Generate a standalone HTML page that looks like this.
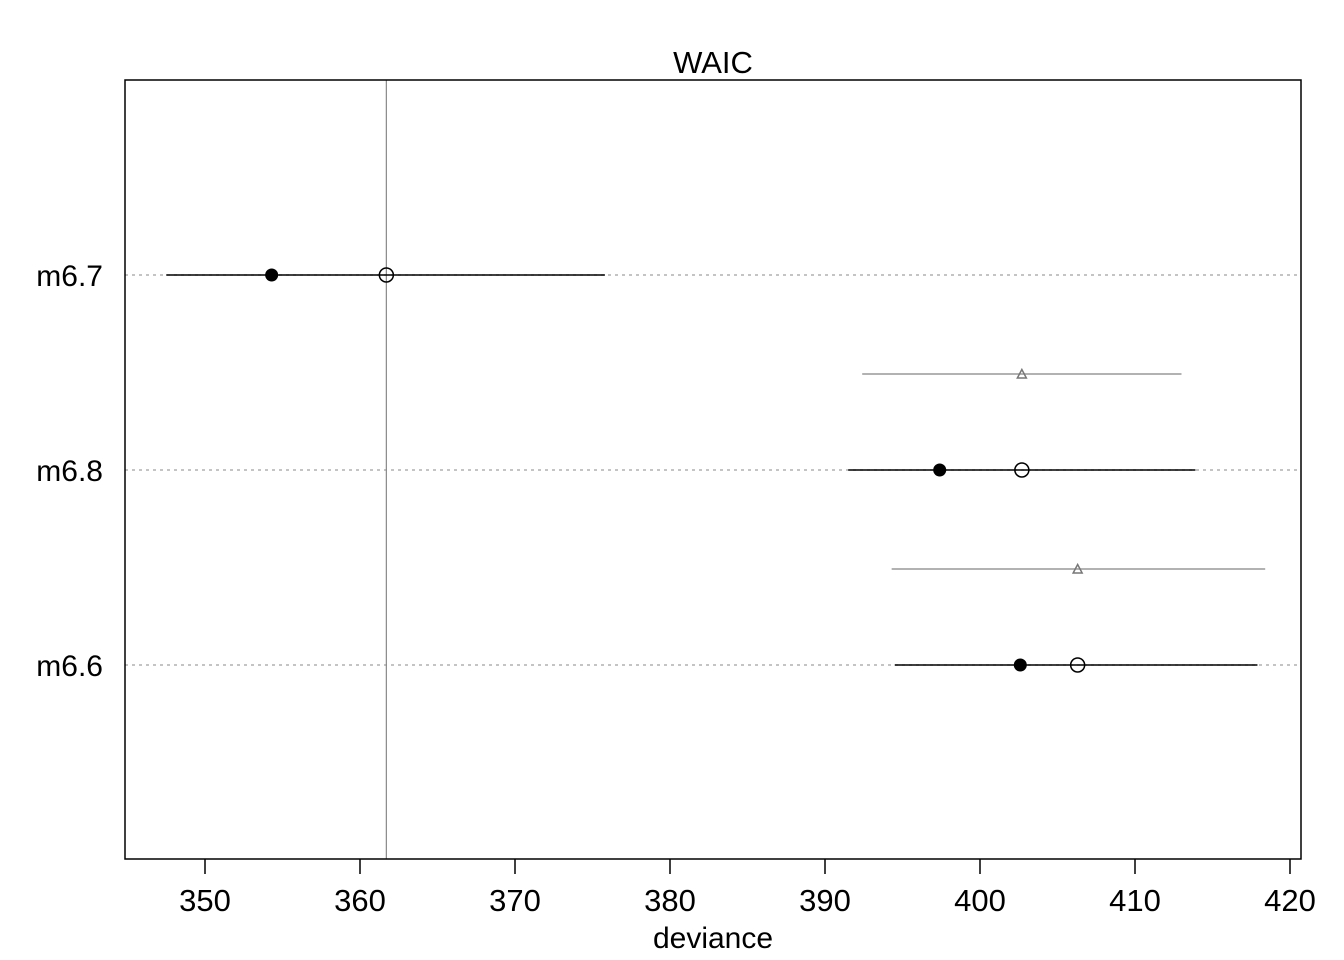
<!DOCTYPE html>
<html><head><meta charset="utf-8"><style>
html,body{margin:0;padding:0;background:#fff;}
svg{display:block;font-family:"Liberation Sans",Arial,sans-serif;}
</style></head><body>
<svg id="chart" width="1344" height="960" viewBox="0 0 1344 960"></svg>
<script>
const models = ["m6.7","m6.8","m6.6"];
const devianceIn = [354.3, 397.4, 402.6];
const waic = [361.7, 402.7, 406.3];
const waicLo = [347.5, 391.5, 394.5];
const waicHi = [375.8, 413.9, 417.9];
const dWaic = [null, 402.7, 406.3];
const dLo = [null, 392.4, 394.3];
const dHi = [null, 413.0, 418.4];
const xTicks = [350,360,370,380,390,400,410,420];

const NS="http://www.w3.org/2000/svg";
const svg=document.getElementById('chart');
const L=125,R=1301,T=80,B=859;
const x=v=>205+(v-350)*(1290-205)/70;
const yRow=i=>275+i*195;
function el(tag,attrs,parent){const e=document.createElementNS(NS,tag);for(const k in attrs)e.setAttribute(k,attrs[k]);(parent||svg).appendChild(e);return e;}

let t=el('text',{x:713,y:73,'text-anchor':'middle','font-size':31});t.textContent='WAIC';



models.forEach((m,i)=>{
  const g=el('line',{x1:L,x2:R,y1:yRow(i),y2:yRow(i),stroke:'#b0b0b0','stroke-width':1.5,'stroke-dasharray':'3,4'});
  
  
});

const vx=x(Math.min(...waic));
const vl=el('line',{x1:vx,x2:vx,y1:T,y2:B,stroke:'#888','stroke-width':1.2});



models.forEach((m,i)=>{
  const y=yRow(i);
  if(dWaic[i]!==null){
    const ty=y-96;
    const dl=el('line',{x1:x(dLo[i]),x2:x(dHi[i]),y1:ty,y2:ty,stroke:'#999','stroke-width':1.5});
    
    
    const cx=x(dWaic[i]);
    const tr=el('polygon',{points:`${cx-4.5},${ty+4} ${cx+4.5},${ty+4} ${cx},${ty-4.5}`,fill:'none',stroke:'#777','stroke-width':1.5});
    
    
  }
  const ln=el('line',{x1:x(waicLo[i]),x2:x(waicHi[i]),y1:y,y2:y,stroke:'#000','stroke-width':1.5});
  
  
  const fp=el('circle',{cx:x(devianceIn[i]),cy:y,r:6.5,fill:'#000'});
  
  
  const op=el('circle',{cx:x(waic[i]),cy:y,r:7,fill:'none',stroke:'#000','stroke-width':1.5});
  
  
  const lb=el('text',{x:103,y:y+11,'text-anchor':'end','font-size':30});lb.textContent=m;
  
  
});

const box=el('rect',{x:L,y:T,width:R-L,height:B-T,fill:'none',stroke:'#000','stroke-width':1.5});



xTicks.forEach(v=>{
  const tk=el('line',{x1:x(v),x2:x(v),y1:B,y2:B+15,stroke:'#000','stroke-width':1.5});
  
  
  const tl=el('text',{x:x(v),y:911,'text-anchor':'middle','font-size':31});tl.textContent=v;
  
  
});
const xt=el('text',{x:713,y:948,'text-anchor':'middle','font-size':30});xt.textContent='deviance';


</script>
</body></html>
